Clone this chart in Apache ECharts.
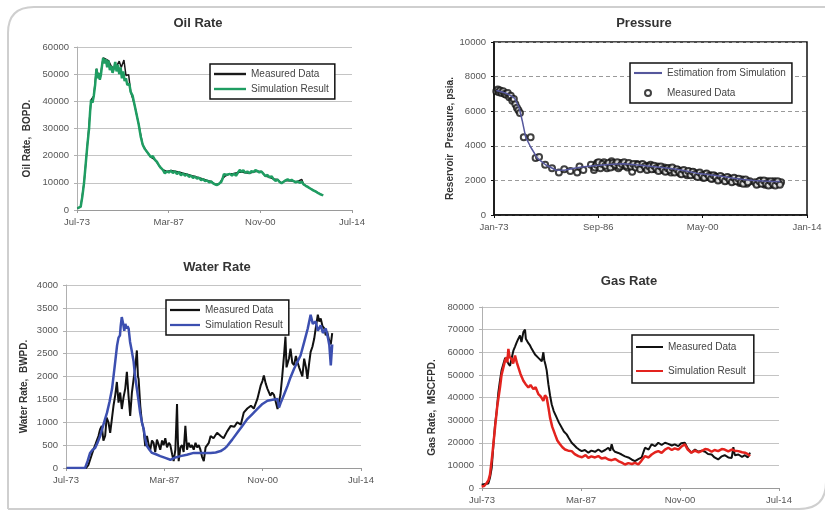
<!DOCTYPE html>
<html><head><meta charset="utf-8">
<script src="https://cdn.jsdelivr.net/npm/echarts@6/dist/echarts.min.js"></script>
<style>html,body{margin:0;padding:0;background:#fff}#c{width:825px;height:511px}</style>
</head><body><div id="c"></div>
<script>
// ---------- tick labels ----------
const rateXLabels = ['Jul-73', 'Mar-87', 'Nov-00', 'Jul-14'];
const presXLabels = ['Jan-73', 'Sep-86', 'May-00', 'Jan-14'];
const titles = ['Oil Rate', 'Pressure', 'Water Rate', 'Gas Rate'];
const yNames = ['Oil Rate,  BOPD.', 'Reservoir  Pressure, psia.', 'Water Rate,  BWPD.', 'Gas Rate,  MSCFPD.'];
const legendText = { oilM: 'Measured Data', oilS: 'Simulation Result', presS: 'Estimation from Simulation', presM: 'Measured Data', watM: 'Measured Data', watS: 'Simulation Result', gasM: 'Measured Data', gasS: 'Simulation Result' };

// ---------- data: [decimal year, value] ----------
const oilSim = [[1973.55,600],[1973.8,900],[1974.05,1200],[1974.3,5000],[1974.55,10000],[1974.8,17000],[1975.05,24000],[1975.3,30000],[1975.45,36000],[1975.6,40500],[1975.8,39500],[1976.0,42000],[1976.2,46000],[1976.4,52000],[1976.55,48500],[1976.75,50500],[1976.9,48000],[1977.05,49500],[1977.25,53500],[1977.4,56000],[1977.6,54000],[1977.8,55500],[1978.0,52500],[1978.2,55000],[1978.4,51500],[1978.6,53000],[1978.8,50500],[1979.0,52000],[1979.2,54500],[1979.4,51000],[1979.6,53500],[1979.8,50000],[1980.0,52500],[1980.2,48500],[1980.4,51000],[1980.6,47500],[1980.8,48500],[1981.0,46000],[1981.3,46500],[1981.5,43500],[1981.8,42000],[1982.1,38500],[1982.4,35000],[1982.7,31500],[1983.0,27000],[1983.3,24000],[1983.6,22500],[1983.9,21500],[1984.2,20500],[1984.5,19500],[1984.8,19800],[1985.1,18500],[1985.4,17800],[1985.7,16500],[1986.0,15500],[1986.3,14800],[1986.6,13500],[1986.9,14200],[1987.2,13800],[1987.5,14500],[1987.8,13600],[1988.1,14300],[1988.4,13200],[1988.7,14000],[1989.0,12800],[1989.3,13500],[1989.6,12600],[1989.9,13200],[1990.2,12200],[1990.5,12700],[1990.8,11800],[1991.1,12300],[1991.4,11500],[1991.7,11900],[1992.0,11000],[1992.3,11400],[1992.6,10600],[1992.9,10900],[1993.2,10200],[1993.5,10500],[1993.8,9800],[1994.1,9400],[1994.4,9200],[1994.7,9700],[1995.0,10300],[1995.2,11500],[1995.4,13200],[1995.6,12500],[1995.8,13000],[1996.0,12400],[1996.3,13300],[1996.6,12700],[1996.9,13400],[1997.2,12600],[1997.5,13800],[1997.8,14800],[1998.0,14000],[1998.3,14600],[1998.6,13700],[1998.9,14200],[1999.2,13500],[1999.5,14300],[1999.8,14000],[2000.1,14700],[2000.4,14300],[2000.7,13800],[2001.0,14200],[2001.3,13300],[2001.6,12500],[2001.9,12900],[2002.2,12000],[2002.5,12400],[2002.8,11400],[2003.1,10700],[2003.4,11200],[2003.7,10300],[2004.0,9900],[2004.3,10400],[2004.6,10900],[2004.9,11300],[2005.2,10800],[2005.5,11100],[2005.8,10600],[2006.1,10200],[2006.4,10500],[2006.7,10000],[2007.0,10400],[2007.3,9400],[2007.6,8900],[2007.9,8500],[2008.2,8000],[2008.5,7600],[2008.8,7100],[2009.1,6800],[2009.4,6300],[2009.7,5900],[2010.0,5600],[2010.2,5400]];
const oilMeas = [[1973.55,600],[1974.05,1200],[1974.55,10000],[1975.05,24000],[1975.6,40500],[1976.0,42000],[1976.4,52000],[1976.9,48000],[1977.4,56000],[1977.8,55500],[1978.2,55000],[1978.6,53000],[1979.0,52000],[1979.4,53000],[1979.8,54800],[1980.1,52500],[1980.5,55200],[1980.8,49500],[1981.2,49800],[1981.5,43500],[1982.1,38500],[1982.7,31500],[1983.3,24000],[1983.9,21500],[1984.5,19500],[1985.1,18500],[1985.7,16500],[1986.3,14800],[1986.9,14200],[1987.5,14500],[1988.1,14300],[1988.7,14000],[1989.3,13500],[1989.9,13200],[1990.5,12700],[1991.1,12300],[1991.7,11900],[1992.3,11400],[1992.9,10900],[1993.5,10500],[1994.1,9400],[1994.7,9700],[1995.2,11500],[1995.6,12500],[1996.3,13300],[1996.9,13400],[1997.5,13800],[1998.0,14000],[1998.6,13700],[1999.2,13500],[1999.8,14000],[2000.4,14300],[2001.0,14200],[2001.6,12500],[2002.2,12000],[2002.8,11400],[2003.4,11200],[2004.0,9900],[2004.6,10900],[2005.2,10800],[2005.8,10600],[2006.4,10500],[2007.0,11300],[2007.3,9400],[2007.9,8500],[2008.5,7600],[2009.1,6800],[2009.7,5900],[2010.2,5400]];

const presSim = [[1973.3,7200],[1973.7,7150],[1974.5,7050],[1975.2,6900],[1975.7,6750],[1976.3,6200],[1976.7,5450],[1977.15,4500],[1977.8,3930],[1978.7,3270],[1979.8,2890],[1981.1,2600],[1982.2,2590],[1983.5,2700],[1984.8,2790],[1986.1,2850],[1988.0,2920],[1990.0,2960],[1991.5,2900],[1993.4,2820],[1995.0,2740],[1996.9,2640],[1998.2,2540],[1999.5,2420],[2001.2,2320],[2003.0,2220],[2004.4,2130],[2005.7,2050],[2007.0,2000],[2008.3,1960],[2009.5,1940],[2010.5,1940]];
const presMeas = [[1973.3,7150],[1973.5,7250],[1973.65,7100],[1973.8,7200],[1974.0,7050],[1974.2,7150],[1974.4,7000],[1974.6,6950],[1974.8,7050],[1975.0,6800],[1975.2,6900],[1975.4,6600],[1975.6,6700],[1975.8,6400],[1976.0,6200],[1976.2,6050],[1976.4,5900],[1976.9,4500],[1977.8,4500],[1978.45,3300],[1978.9,3350],[1979.7,2900],[1980.6,2700],[1981.5,2450],[1982.2,2650],[1983.0,2550],[1983.9,2450],[1984.2,2800],[1984.7,2600],[1985.7,2900],[1986.1,2600],[1986.5,3000],[1987.0,2850],[1987.4,3050],[1987.8,2700],[1988.1,2950],[1988.4,3100],[1988.7,2800],[1989.0,2950],[1989.3,2700],[1989.6,3000],[1989.9,2850],[1990.2,2950],[1990.5,2750],[1990.8,2900],[1991.1,2500],[1991.4,2850],[1991.7,2950],[1992.0,2800],[1992.3,2900],[1992.6,2750],[1992.9,2850],[1993.2,2700],[1993.5,2900],[1993.8,2750],[1994.1,2650],[1994.4,2800],[1994.7,2700],[1995.0,2600],[1995.3,2750],[1995.6,2550],[1995.9,2700],[1996.2,2450],[1996.5,2650],[1996.8,2550],[1997.1,2600],[1997.4,2400],[1997.7,2550],[1998.0,2450],[1998.3,2300],[1998.6,2500],[1998.9,2350],[1999.2,2450],[1999.5,2250],[1999.8,2400],[2000.1,2300],[2000.4,2150],[2000.7,2350],[2001.0,2200],[2001.3,2300],[2001.6,2100],[2001.9,2250],[2002.2,2150],[2002.5,2050],[2002.8,2200],[2003.1,2100],[2003.4,2000],[2003.7,2150],[2004.0,2050],[2004.3,1950],[2004.6,2100],[2004.9,2000],[2005.2,1850],[2005.5,2050],[2005.8,1900],[2006.1,1800],[2006.5,1950],[2007.2,1900],[2007.6,1800],[2007.9,2000],[2008.2,1850],[2008.5,1750],[2008.8,1950],[2009.1,1850],[2009.4,1750],[2009.7,1950],[2010.0,1850],[2010.3,1800],[2010.6,1900],
  [1986.2,2750],[1986.45,2900],[1986.7,3050],[1986.95,2700],[1987.2,2950],[1987.6,2850],[1988.0,3000],[1988.25,2750],[1988.55,3000],[1988.85,2900],[1989.15,3050],[1989.45,2800],[1989.75,2950],[1990.05,3050],[1990.35,2850],[1990.65,3000],[1990.95,2800],[1991.25,2950],[1991.55,2750],[1991.85,2900],[1992.15,2650],[1992.45,2950],[1992.75,2800],[1993.05,2600],[1993.35,2800],[1993.65,2650],[1993.95,2850],[1994.25,2700],[1994.55,2550],[1994.85,2800],[1995.15,2650],[1995.45,2500],[1995.75,2700],[1996.05,2600],[1996.35,2750],[1996.65,2450],[1996.95,2650],[1997.25,2500],[1997.55,2350],[1997.85,2600],[1998.15,2400],[1998.45,2550],[1998.75,2300],[1999.05,2500],[1999.35,2350],[1999.65,2200],[1999.95,2450],[2000.25,2300],[2000.55,2150],[2000.85,2400],[2001.15,2250],[2001.45,2100],[2001.75,2300],[2002.05,2200],[2002.35,2000],[2002.65,2250],[2002.95,2100],[2003.25,1950],[2003.55,2200],[2003.85,2050],[2004.15,1900],[2004.45,2150],[2004.75,1950],[2005.05,2100],[2005.35,1900],[2005.65,1800],[2005.95,2050],[2006.25,1900],[2007.4,1750],[2007.75,1950],[2008.05,1800],[2008.35,2000],[2008.65,1800],[2008.95,1700],[2009.25,1950],[2009.55,1800],[2009.85,1700],[2010.15,1950],[2010.45,1750]];

const watSim = [[1973.6,0],[1974.5,0],[1975.3,0],[1976.15,0],[1976.5,150],[1976.85,330],[1977.2,400],[1977.55,440],[1977.9,560],[1978.25,700],[1978.7,950],[1979.2,1210],[1979.55,1450],[1979.9,1730],[1980.25,2200],[1980.6,2680],[1980.8,2850],[1981.0,2900],[1981.1,3100],[1981.25,3300],[1981.45,3150],[1981.6,3000],[1981.75,3150],[1981.9,3050],[1982.05,3100],[1982.2,3050],[1982.4,2760],[1982.65,2550],[1982.9,2320],[1983.1,2000],[1983.35,1730],[1983.6,1450],[1983.8,1210],[1984.05,1000],[1984.3,850],[1984.5,650],[1984.75,480],[1985.1,400],[1985.45,330],[1986.0,300],[1986.6,260],[1987.3,220],[1988.0,180],[1988.7,230],[1989.4,260],[1990.3,290],[1991.25,330],[1992.4,330],[1993.6,330],[1994.3,340],[1995.0,370],[1995.5,420],[1995.9,480],[1996.6,620],[1997.3,770],[1998.0,920],[1998.7,1070],[1999.4,1180],[2000.1,1290],[2000.8,1400],[2001.5,1470],[2002.2,1490],[2002.9,1510],[2003.1,1320],[2003.4,1450],[2003.8,1600],[2004.3,1800],[2004.7,1980],[2005.2,2170],[2005.6,2300],[2006.1,2460],[2006.6,2750],[2007.1,3050],[2007.5,3350],[2007.8,3150],[2008.2,3200],[2008.5,3000],[2008.9,3120],[2009.2,2950],[2009.6,3050],[2009.9,2850],[2010.1,2680],[2010.3,2240],[2010.5,2700]];
const watMeas = [[1973.6,0],[1975.0,0],[1976.3,0],[1976.6,60],[1976.85,180],[1977.1,300],[1977.31,400],[1977.6,520],[1978.01,700],[1978.25,850],[1978.47,920],[1978.7,600],[1978.94,700],[1979.15,1100],[1979.4,1000],[1979.64,770],[1979.9,1100],[1980.1,1360],[1980.35,1600],[1980.57,1880],[1980.8,1430],[1981.03,1650],[1981.26,1290],[1981.5,1550],[1981.73,1730],[1981.96,2100],[1982.19,1580],[1982.42,1140],[1982.66,1650],[1982.9,1950],[1983.12,2200],[1983.35,2570],[1983.5,2000],[1983.59,1950],[1983.82,1360],[1984.05,1000],[1984.28,850],[1984.51,480],[1984.75,700],[1985.0,500],[1985.21,400],[1985.45,600],[1985.67,550],[1985.9,350],[1986.14,620],[1986.4,500],[1986.6,400],[1986.85,600],[1987.07,500],[1987.3,650],[1987.54,450],[1987.8,550],[1988.0,500],[1988.25,300],[1988.46,150],[1988.7,400],[1988.93,1400],[1989.05,600],[1989.16,150],[1989.4,450],[1989.63,500],[1989.85,350],[1990.09,920],[1990.32,400],[1990.55,550],[1990.79,450],[1991.0,500],[1991.25,400],[1991.5,550],[1991.72,450],[1991.95,500],[1992.18,400],[1992.4,250],[1992.65,150],[1992.9,450],[1993.1,480],[1993.35,550],[1993.6,700],[1994.0,650],[1994.5,770],[1995.0,700],[1995.4,650],[1995.9,800],[1996.4,920],[1996.9,900],[1997.3,1000],[1997.8,950],[1998.2,1210],[1998.7,1300],[1999.2,1360],[1999.6,1300],[2000.1,1510],[2000.55,1800],[2000.8,1900],[2001.0,2020],[2001.25,1850],[2001.5,1730],[2001.9,1580],[2002.15,1650],[2002.4,1600],[2002.65,1450],[2002.9,1290],[2003.1,1250],[2003.3,1600],[2003.55,2000],[2003.8,2460],[2004.0,2870],[2004.15,2200],[2004.3,2170],[2004.5,2400],[2004.7,2610],[2004.95,2300],[2005.2,2250],[2005.45,2450],[2005.7,2300],[2005.9,2200],[2006.1,2170],[2006.35,2000],[2006.6,2390],[2006.85,2200],[2007.05,1950],[2007.3,2300],[2007.5,2540],[2007.75,2650],[2008.0,2830],[2008.25,3100],[2008.5,3350],[2008.7,3200],[2008.9,3270],[2009.15,3100],[2009.4,3050],[2009.6,2900],[2009.8,2980],[2010.05,2800],[2010.3,2700],[2010.5,2950]];

const gasSim = [[1973.45,700],[1973.8,900],[1974.15,2200],[1974.4,3500],[1974.6,5900],[1974.9,14000],[1975.3,26700],[1975.6,36000],[1975.98,44400],[1976.2,50000],[1976.45,53300],[1976.7,56500],[1976.9,57800],[1977.0,55500],[1977.14,61500],[1977.3,58000],[1977.6,57000],[1977.8,55000],[1978.06,58500],[1978.3,55500],[1978.52,53300],[1978.8,50500],[1979.0,49000],[1979.21,47400],[1979.5,46000],[1979.9,44400],[1980.2,45500],[1980.59,43700],[1980.9,44500],[1981.28,41500],[1981.6,40500],[1981.97,38500],[1982.2,41000],[1982.43,40000],[1982.7,35000],[1982.89,31100],[1983.2,27000],[1983.58,23700],[1983.9,21000],[1984.27,19300],[1984.6,18000],[1984.96,17000],[1985.4,16500],[1985.88,16300],[1986.3,15000],[1986.8,14100],[1987.3,13600],[1987.8,14500],[1988.18,13300],[1988.6,14000],[1989.1,13500],[1989.56,14100],[1990.0,13000],[1990.5,13400],[1990.94,12600],[1991.4,12300],[1991.9,12800],[1992.32,11900],[1992.8,11200],[1993.24,10400],[1993.7,11000],[1994.2,10600],[1994.62,11100],[1995.08,10400],[1995.5,12000],[1996.0,14100],[1996.5,13500],[1996.92,14800],[1997.4,15800],[1997.84,16300],[1998.3,15500],[1998.76,17000],[1999.22,17800],[1999.7,16800],[2000.1,17500],[2000.6,17000],[2001.0,18200],[2001.5,19300],[2001.9,17000],[2002.4,15600],[2002.9,16500],[2003.4,15800],[2003.8,16300],[2004.3,17200],[2004.7,17000],[2005.2,16000],[2005.6,16800],[2006.1,16300],[2006.6,17200],[2007.0,17000],[2007.5,16200],[2007.97,17000],[2008.4,16500],[2008.9,16300],[2009.4,15800],[2009.8,15600],[2010.2,15000],[2010.5,14100]];
const gasMeas = [[1973.45,1500],[1973.9,1800],[1974.37,2000],[1974.6,4500],[1974.84,8900],[1975.1,20000],[1975.3,28000],[1975.53,34000],[1975.75,42000],[1975.98,47400],[1976.2,52000],[1976.45,54800],[1976.7,57500],[1976.9,57000],[1977.14,55000],[1977.37,54000],[1977.6,57500],[1977.83,60700],[1978.06,62500],[1978.29,64400],[1978.52,66000],[1978.75,67400],[1978.95,64500],[1979.21,68900],[1979.44,70000],[1979.55,66000],[1979.67,65200],[1979.9,64000],[1980.13,63000],[1980.36,61500],[1980.59,60700],[1980.82,59000],[1981.05,58500],[1981.28,57500],[1981.51,57000],[1981.75,56000],[1981.97,60000],[1982.1,56500],[1982.29,54100],[1982.43,52000],[1982.66,45900],[1982.89,41000],[1983.12,37000],[1983.4,34000],[1983.81,31100],[1984.1,29000],[1984.5,26700],[1984.8,25000],[1985.19,23700],[1985.5,22000],[1985.88,20000],[1986.2,19000],[1986.57,17800],[1986.9,17000],[1987.26,16300],[1987.7,16800],[1988.18,15600],[1988.6,16500],[1989.1,16000],[1989.56,17000],[1990.02,16000],[1990.5,16800],[1990.94,17800],[1991.2,16500],[1991.4,19300],[1991.6,17000],[1991.86,16000],[1992.32,15500],[1992.78,14800],[1993.24,14000],[1993.7,13500],[1994.2,12500],[1994.62,11900],[1995.08,12800],[1995.54,13500],[1995.8,16000],[1996.0,17800],[1996.5,17000],[1996.92,19300],[1997.4,18500],[1997.84,20000],[1998.3,19000],[1998.76,20000],[1999.22,19500],[1999.7,18800],[2000.1,19300],[2000.6,18500],[2001.0,19800],[2001.5,20000],[2001.9,17500],[2002.4,15600],[2002.9,17000],[2003.4,16000],[2003.8,16500],[2004.3,16000],[2004.7,15000],[2005.2,14800],[2005.6,13500],[2006.1,12600],[2006.6,14000],[2007.0,14500],[2007.5,13500],[2007.97,13300],[2008.2,18000],[2008.4,14500],[2008.9,14800],[2009.4,13800],[2009.8,14500],[2010.2,13500],[2010.5,15600]];

// ---------- build ----------
const toMonths = (arr, start) => arr.map(p => [(p[0] - start) * 12, p[1]]);
const FONT = 'Liberation Sans';
const grids = [
  { left: 77, top: 47, width: 275, height: 163 },
  { left: 494, top: 42, width: 313, height: 173, show: true, borderColor: '#111', borderWidth: 1.5 },
  { left: 66, top: 285, width: 295, height: 183 },
  { left: 482, top: 307, width: 297, height: 181 }
];
const yCfg = [
  { max: 60000, interval: 10000, gap: 45 },
  { max: 10000, interval: 2000, gap: 38 },
  { max: 4000, interval: 500, gap: 37 },
  { max: 80000, interval: 10000, gap: 45 }
];
const xLabelsFor = [rateXLabels, presXLabels, rateXLabels, rateXLabels];

const xAxes = grids.map((g, i) => ({
  type: 'value', gridIndex: i, min: 0, max: 492, interval: 164,
  axisLine: { show: true, lineStyle: { color: i === 1 ? '#111' : '#9a9a9a', width: i === 1 ? 1.5 : 1 } },
  axisTick: { show: true, length: 3, lineStyle: { color: i === 1 ? '#111' : '#9a9a9a' } },
  splitLine: { show: false },
  axisLabel: { formatter: v => xLabelsFor[i][Math.round(v / 164)], color: '#555', fontSize: 9.5, fontFamily: FONT, margin: 7 }
}));
const yAxes = grids.map((g, i) => ({
  type: 'value', gridIndex: i, min: 0, max: yCfg[i].max, interval: yCfg[i].interval,
  name: yNames[i], nameLocation: 'middle', nameRotate: 90, nameGap: yCfg[i].gap,
  nameTextStyle: { fontWeight: 'bold', fontSize: 10, color: '#333', fontFamily: FONT, padding: [0, 20, 0, 0] },
  axisLine: { show: true, lineStyle: { color: i === 1 ? '#111' : '#b0b0b0', width: i === 1 ? 1.5 : 1 } },
  axisTick: { show: true, length: 3, lineStyle: { color: i === 1 ? '#111' : '#b0b0b0' } },
  splitLine: { show: true, lineStyle: i === 1 ? { color: '#9a9a9a', type: [4, 3], width: 1 } : { color: '#c4c4c4', width: 1 } },
  axisLabel: { formatter: v => String(v), color: '#555', fontSize: 9.5, fontFamily: FONT, margin: 8 }
}));

const lineS = (id, data, idx, color, width, z) => ({
  type: 'line', name: id, xAxisIndex: idx, yAxisIndex: idx, data: data,
  symbol: 'none', showSymbol: false, lineStyle: { color: color, width: width }, itemStyle: { color: color }, z: z, animation: false
});
const series = [
  lineS('oilM', toMonths(oilMeas, 1973.5), 0, '#1a1a1a', 1.5, 2),
  lineS('oilS', toMonths(oilSim, 1973.5), 0, '#1f9d62', 2.5, 3),
  { type: 'scatter', name: 'presM', xAxisIndex: 1, yAxisIndex: 1, data: toMonths(presMeas, 1973), symbol: 'emptyCircle', symbolSize: 6,
    itemStyle: { color: '#111', borderColor: '#111', borderWidth: 0.9 }, z: 2, animation: false },
  lineS('presS', toMonths(presSim, 1973), 1, '#55579c', 1.5, 3),
  lineS('watM', toMonths(watMeas, 1973.5), 2, '#111111', 2, 2),
  lineS('watS', toMonths(watSim, 1973.5), 2, '#3c4fb0', 2.5, 3),
  lineS('gasM', toMonths(gasMeas, 1973.5), 3, '#111111', 2, 2),
  lineS('gasS', toMonths(gasSim, 1973.5), 3, '#e3231e', 2.5, 3)
];

const LINE_ICON = 'path://M0 0H40V3H0Z';
const legendBase = (items, left, top, gap, w, pad) => ({
  data: items.map(n => n === 'presM' ? { name: n, icon: 'emptyCircle' } : { name: n, icon: LINE_ICON }),
  left: left, top: top, orient: 'vertical', itemGap: gap, itemWidth: w, itemHeight: 6,
  padding: pad || [5, 6, 5, 4], borderColor: '#111', borderWidth: 1.5, backgroundColor: '#fff',
  formatter: n => legendText[n], selectedMode: false,
  textStyle: { fontSize: 10, color: '#444', fontFamily: FONT }
});

const frameStyle = { stroke: '#cfcfcf', lineWidth: 2, fill: null };
const option = {
  animation: false,
  backgroundColor: '#fff',
  textStyle: { fontFamily: FONT },
  title: [
    { text: titles[0], left: 193, top: 12, textAlign: 'center' },
    { text: titles[1], left: 639, top: 12, textAlign: 'center' },
    { text: titles[2], left: 212, top: 256, textAlign: 'center' },
    { text: titles[3], left: 624, top: 270, textAlign: 'center' }
  ].map(t => Object.assign(t, { textStyle: { fontSize: 13, fontWeight: 'bold', color: '#333', fontFamily: FONT } })),
  grid: grids,
  xAxis: xAxes,
  yAxis: yAxes,
  legend: [
    legendBase(['oilM', 'oilS'], 210, 64, 5, 32),
    legendBase(['presS', 'presM'], 630, 63, 10, 28),
    legendBase(['watM', 'watS'], 166, 300, 5, 30),
    legendBase(['gasM', 'gasS'], 632, 335, 14, 27, [7, 8, 7, 4])
  ],
  series: series,
  graphic: [
    { type: 'line', silent: true, z: -10, shape: { x1: 34, y1: 7, x2: 830, y2: 7 }, style: frameStyle },
    { type: 'bezierCurve', silent: true, z: -10, shape: { x1: 8, y1: 33, x2: 34, y2: 7, cpx1: 8, cpy1: 7 }, style: frameStyle },
    { type: 'line', silent: true, z: -10, shape: { x1: 8, y1: 33, x2: 8, y2: 509 }, style: frameStyle },
    { type: 'line', silent: true, z: -10, shape: { x1: 8, y1: 509, x2: 799, y2: 509 }, style: frameStyle },
    { type: 'bezierCurve', silent: true, z: -10, shape: { x1: 799, y1: 509, x2: 826, y2: 482, cpx1: 826, cpy1: 509 }, style: frameStyle }
  ]
};
const chart = echarts.init(document.getElementById('c'), null, { renderer: 'canvas' });
chart.setOption(option);
</script>
</body></html>
